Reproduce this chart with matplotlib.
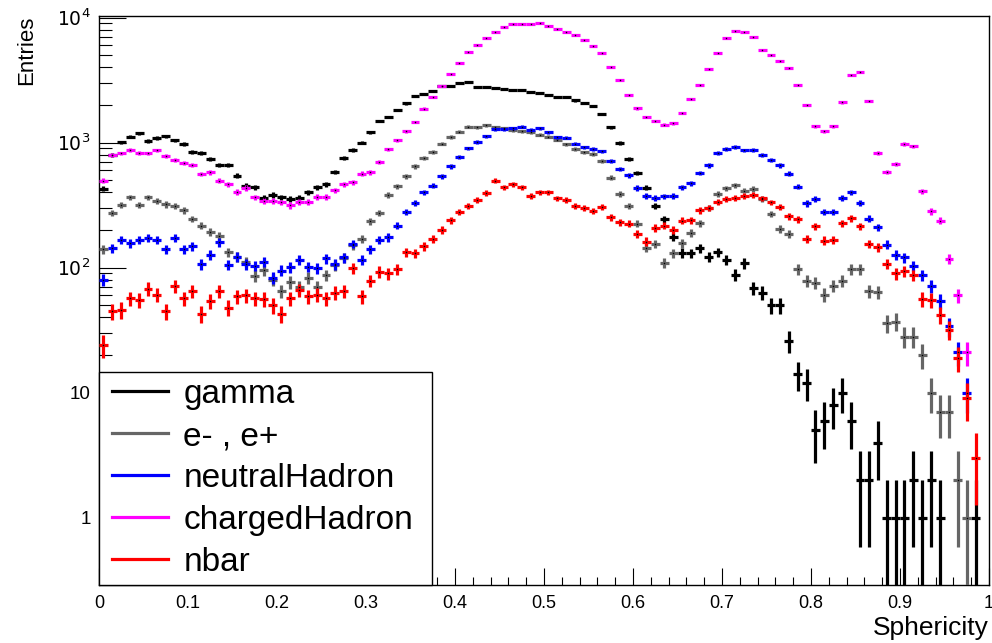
import numpy as np
import matplotlib
matplotlib.use("Agg")
import matplotlib.pyplot as plt
from matplotlib.lines import Line2D
from matplotlib.patches import Rectangle
from matplotlib.ticker import FixedLocator, FixedFormatter, MultipleLocator

plt.rcParams['font.family'] = ['Liberation Sans', 'DejaVu Sans']

# 100 bins of sphericity in [0, 1]
edges = np.linspace(0, 1, 101)

gamma = [429, 800, 1006, 1117, 1188, 1031, 1090, 1124, 1045, 976,
         847, 826, 736, 663, 663, 545, 453, 439, 363, 381,
         365, 354, 363, 401, 442, 464, 582, 749, 879, 1000,
         1211, 1490, 1604, 1835, 2064, 2349, 2436, 2606, 2823, 2858,
         3000, 3039, 2805, 2773, 2754, 2685, 2622, 2638, 2527, 2483,
         2421, 2306, 2333, 2182, 2089, 1977, 1695, 1334, 993, 744,
         572, 438, 313, 245, 177, 132, 131, 144, 123, 133,
         116, 88, 109, 69, 63, 50, 50, 26, 14, 12,
         5, 6, 8, 10, 6, 2, 2, 4, 1, 1,
         1, 2, 1, 2, 1, 0, 0, 0, 1, 0]

electron = [140, 274, 318, 366, 320, 366, 341, 321, 310, 288,
            246, 217, 194, 181, 133, 122, 112, 86, 96, 80,
            65, 77, 70, 83, 70, 87, 105, 120, 152, 170,
            235, 274, 384, 448, 538, 647, 754, 842, 982, 1109,
            1224, 1343, 1334, 1376, 1334, 1303, 1262, 1240, 1211, 1159,
            1117, 1057, 970, 895, 837, 811, 709, 525, 391, 310,
            225, 145, 155, 110, 131, 157, 189, 226, 300, 388,
            431, 459, 413, 426, 355, 269, 204, 186, 98, 79,
            76, 61, 72, 79, 98, 98, 65, 64, 36, 37,
            28, 28, 20, 10, 7, 7, 2, 1, 0, 0]

neutral = [80, 144, 167, 157, 167, 173, 167, 141, 173, 141,
           148, 107, 127, 160, 106, 123, 107, 104, 112, 83,
           95, 101, 115, 102, 99, 119, 107, 121, 155, 115,
           141, 167, 175, 217, 279, 329, 401, 453, 538, 647,
           773, 901, 1012, 1124, 1286, 1286, 1310, 1343, 1270, 1310,
           1211, 1104, 1095, 982, 918, 895, 853, 709, 615, 548,
           434, 376, 363, 372, 376, 442, 472, 572, 659, 826,
           895, 929, 868, 879, 802, 727, 659, 565, 445, 327,
           354, 279, 279, 361, 401, 329, 247, 210, 153, 127,
           121, 104, 87, 71, 54, 34, 21, 10, 0, 0]

charged = [497, 797, 822, 879, 826, 822, 868, 778, 722, 688,
           667, 561, 579, 497, 467, 405, 434, 365, 342, 344,
           333, 315, 338, 336, 370, 370, 416, 467, 482, 565,
           579, 700, 885, 1045, 1240, 1463, 1871, 2306, 2823, 3565,
           4336, 5345, 6043, 6918, 7679, 8365, 8847, 8954, 8954, 9016,
           8636, 8166, 7727, 7267, 6590, 5933, 5248, 4055, 3192, 2405,
           1883, 1604, 1490, 1393, 1436, 1727, 2249, 2911, 3862, 5212,
           6918, 7780, 7679, 6966, 5479, 4998, 4500, 3958, 2893, 2001,
           1352, 1233, 1352, 2103, 3459, 3654, 2167, 826, 586, 679,
           976, 935, 408, 282, 238, 117, 60, 21, 0, 0]

nbar = [24, 45, 46, 57, 55, 68, 61, 45, 71, 57,
        65, 43, 54, 65, 48, 59, 60, 57, 56, 50,
        43, 57, 66, 59, 61, 57, 63, 65, 99, 59,
        79, 93, 90, 98, 133, 131, 148, 170, 201, 239,
        279, 313, 350, 396, 497, 439, 467, 442, 376, 401,
        401, 359, 349, 310, 300, 286, 306, 254, 231, 225,
        186, 162, 208, 217, 201, 238, 239, 287, 302, 337,
        354, 361, 376, 381, 359, 333, 306, 258, 245, 170,
        214, 165, 167, 228, 250, 214, 155, 146, 108, 90,
        94, 87, 56, 55, 42, 32, 19, 9, 3, 0]

labels = ['gamma', 'e- , e+', 'neutralHadron', 'chargedHadron', 'nbar']
colors = ['black', '#666666', '#0000ff', '#ff00ff', '#ff0000']
series = [gamma, electron, neutral, charged, nbar]

ymin, ymax = 0.29, 10 ** 4.014

fig = plt.figure(figsize=(9.92, 6.43), dpi=100)
ax = fig.add_axes([0.0998, 0.0902, 0.8972, 0.885])

centers = 0.5 * (edges[:-1] + edges[1:])
half = 0.5 * (edges[1] - edges[0])
for vals, c in zip(series, colors):
    v = np.array(vals, dtype=float)
    m = v > 0
    x = centers[m]
    y = v[m]
    err = np.sqrt(y)
    lo = np.minimum(err, y - 1e-3)
    ax.errorbar(x, y, xerr=half, yerr=[lo, err], fmt='none', ecolor=c,
                elinewidth=2.3, capsize=0, zorder=3)
    ax.plot(x, y, 's', ms=1.0, color='black', mew=0, zorder=4)

ax.set_yscale('log')
ax.set_xlim(0, 1)
ax.set_ylim(ymin, ymax)

ax.xaxis.set_major_locator(MultipleLocator(0.1))
ax.xaxis.set_minor_locator(MultipleLocator(0.02))
ax.xaxis.set_major_formatter(plt.FuncFormatter(lambda v, p: '%g' % round(v, 2)))

ax.yaxis.set_major_locator(FixedLocator([1, 10, 100, 1000, 10000]))
ax.yaxis.set_major_formatter(FixedFormatter(['1', '10', r'$10^{2}$', r'$10^{3}$', r'$10^{4}$']))
minors = [m * 10 ** d for d in range(-1, 4) for m in range(2, 10)]
ax.yaxis.set_minor_locator(FixedLocator([t for t in minors if ymin < t < ymax]))
ax.yaxis.set_minor_formatter(plt.NullFormatter())

ax.tick_params(axis='both', which='both', direction='in', top=False, right=False, width=0.8)
ax.tick_params(axis='x', which='major', length=12.2, labelsize=13, pad=7)
ax.tick_params(axis='x', which='minor', length=6.1)
ax.tick_params(axis='y', which='major', length=19.4, labelsize=13.5, pad=6)
ax.tick_params(axis='y', which='minor', length=9.4)
for s in ax.spines.values():
    s.set_linewidth(1.0)

ax.set_xlabel('Sphericity', loc='right', fontsize=19, labelpad=3)
ax.set_ylabel('Entries', loc='top', fontsize=16, labelpad=14)

# legend box (white, black frame) in the lower-left corner
box = Rectangle((0, 0), 0.374, 0.374, transform=ax.transAxes, facecolor='white',
                edgecolor='black', lw=1.0, zorder=9, clip_on=False)
ax.add_patch(box)

handles = [Line2D([], [], color=c, lw=2.3) for c in colors]
leg = ax.legend(handles, labels, loc='center left', bbox_to_anchor=(0, 0.187),
                borderaxespad=0, fontsize=24, frameon=False,
                handlelength=1.68, handletextpad=0.45, labelspacing=0.33, borderpad=0.4)
leg.set_zorder(10)

fig.savefig('out.png', dpi=100)
